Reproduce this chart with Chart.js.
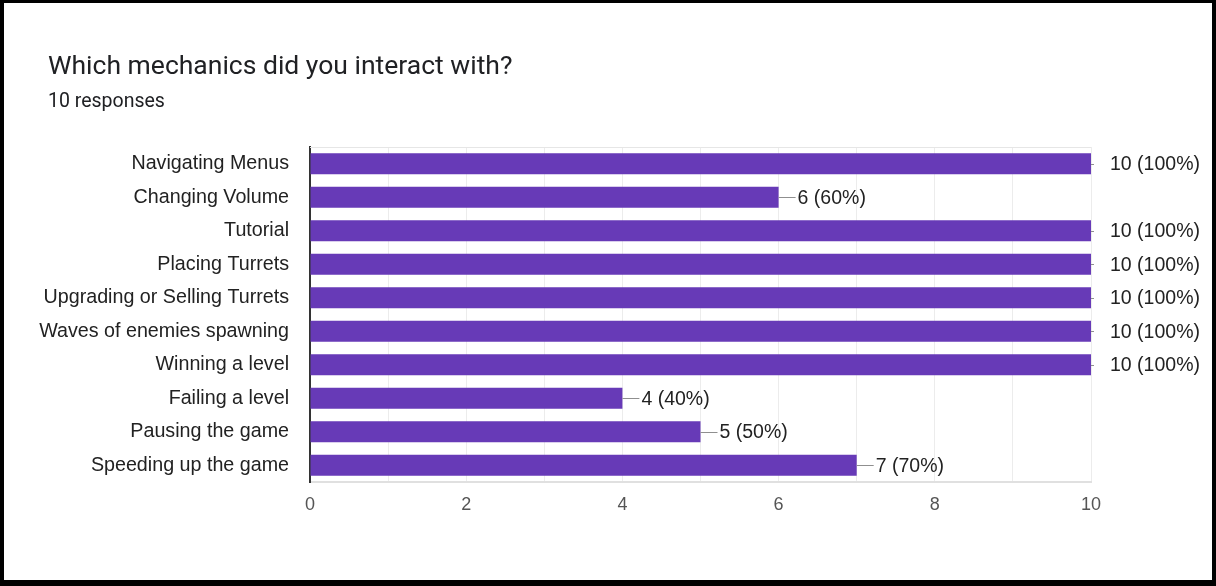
<!DOCTYPE html>
<html>
<head>
<meta charset="utf-8">
<script src="https://cdn.jsdelivr.net/npm/chart.js@4/dist/chart.umd.min.js"></script>
<style>
  body { margin: 0; background: #fff; }
  #wrap { position: relative; width: 1216px; height: 586px; overflow: hidden; }
  #frame {
    position: absolute; left: 0; top: 0; width: 1216px; height: 586px;
    box-sizing: border-box; border: 4px solid #000; border-top-width: 3px; border-bottom-width: 6px;
    pointer-events: none;
  }
  .q-title {
    position: absolute; left: 48px; top: 49px; line-height: normal;
    font: 26.5px Roboto, "Open Sans", sans-serif; color: #202124; white-space: nowrap;
  }
  .q-sub {
    position: absolute; left: 48px; top: 89px; line-height: normal;
    font: 19.5px Roboto, sans-serif; color: #202124; white-space: nowrap;
  }
  canvas { position: absolute; left: 0; top: 0; }
</style>
</head>
<body>
<div id="wrap">
  <canvas id="chart" width="1216" height="586"></canvas>
  <div class="q-title">Which mechanics did you interact with?</div>
  <div class="q-sub">10 responses</div>
  <div id="frame"></div>
</div>
<script>
const categories = [
  'Navigating Menus',
  'Changing Volume',
  'Tutorial',
  'Placing Turrets',
  'Upgrading or Selling Turrets',
  'Waves of enemies spawning',
  'Winning a level',
  'Failing a level',
  'Pausing the game',
  'Speeding up the game'
];
const counts = [10, 6, 10, 10, 10, 10, 10, 4, 5, 7];
const responses = 10;

const BAR = '#673ab7';
const LABEL_FONT = '19.5px "Liberation Sans", Arial, sans-serif';

// value labels with a short leader line, plus the top frame line of the plot
const barLabels = {
  id: 'barLabels',
  afterDatasetsDraw(chart) {
    const ctx = chart.ctx;
    const area = chart.chartArea;
    ctx.save();
    ctx.strokeStyle = '#e6e6e6';
    ctx.lineWidth = 1;
    ctx.beginPath();
    ctx.moveTo(area.left, area.top + 0.5);
    ctx.lineTo(area.right, area.top + 0.5);
    ctx.stroke();

    ctx.font = LABEL_FONT;
    ctx.fillStyle = '#222';
    ctx.textAlign = 'left';
    ctx.textBaseline = 'middle';
    chart.getDatasetMeta(0).data.forEach((bar, i) => {
      const v = counts[i];
      const end = Math.min(bar.x + 17, area.right + 3);
      ctx.strokeStyle = '#8f8f8f';
      ctx.beginPath();
      ctx.moveTo(bar.x, Math.round(bar.y) + 0.5);
      ctx.lineTo(end, Math.round(bar.y) + 0.5);
      ctx.stroke();
      const pct = Math.round(v / responses * 100);
      ctx.fillText(`${v} (${pct}%)`, bar.x + 19, bar.y + 1);
    });
    ctx.restore();
  }
};

new Chart(document.getElementById('chart'), {
  type: 'bar',
  data: {
    labels: categories,
    datasets: [{
      data: counts,
      backgroundColor: BAR,
      borderWidth: 0,
      barPercentage: 0.63,
      categoryPercentage: 1
    }]
  },
  options: {
    indexAxis: 'y',
    responsive: false,
    animation: false,
    layout: { padding: { left: 0, top: 147, right: 125, bottom: 64 } },
    plugins: {
      legend: { display: false },
      tooltip: { enabled: false }
    },
    scales: {
      x: {
        min: 0,
        max: 10,
        afterFit: s => { s.height = 40; },
        ticks: {
          stepSize: 1,
          autoSkip: false,
          maxRotation: 0,
          padding: 12,
          color: '#555',
          font: { family: '"Liberation Sans", Arial, sans-serif', size: 18 },
          callback: v => (v % 2 === 0 ? v : '')
        },
        grid: { color: '#ececec', drawTicks: false },
        border: { color: '#e0e0e0', width: 2 }
      },
      y: {
        afterFit: s => { s.width = 310; },
        ticks: {
          padding: 21,
          color: '#222',
          font: { family: '"Liberation Sans", Arial, sans-serif', size: 19.7 }
        },
        grid: { display: false, drawTicks: false },
        border: { color: '#333', width: 2 }
      }
    }
  },
  plugins: [barLabels]
});
</script>
</body>
</html>
